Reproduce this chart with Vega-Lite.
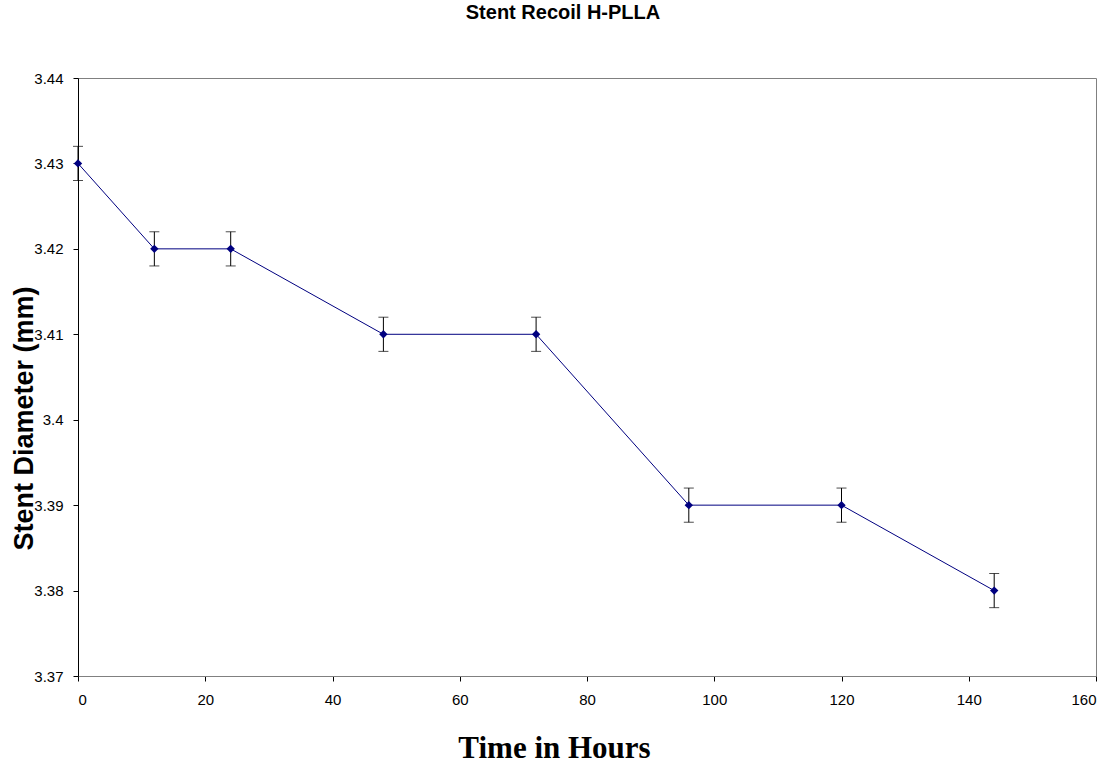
{
  "$schema": "https://vega.github.io/schema/vega-lite/v6.json",
  "width": 1018,
  "height": 598,
  "autosize": "none",
  "padding": {"left": 78, "top": 78, "right": 19, "bottom": 88},
  "background": "white",
  "config": {
    "view": {"stroke": "#808080", "strokeWidth": 1},
    "font": "Liberation Sans"
  },
  "title": {
    "text": "Stent Recoil H-PLLA",
    "font": "Liberation Sans",
    "fontSize": 20,
    "fontWeight": "bold",
    "color": "black",
    "anchor": "middle",
    "dx": -24,
    "offset": 48
  },
  "data": {
    "values": [
      {"hours": 0, "diameter": 3.43, "err": 0.002},
      {"hours": 12, "diameter": 3.42, "err": 0.002},
      {"hours": 24, "diameter": 3.42, "err": 0.002},
      {"hours": 48, "diameter": 3.41, "err": 0.002},
      {"hours": 72, "diameter": 3.41, "err": 0.002},
      {"hours": 96, "diameter": 3.39, "err": 0.002},
      {"hours": 120, "diameter": 3.39, "err": 0.002},
      {"hours": 144, "diameter": 3.38, "err": 0.002}
    ]
  },
  "encoding": {
    "x": {
      "field": "hours",
      "type": "quantitative",
      "scale": {"domain": [0, 160], "nice": false, "zero": false},
      "axis": {
        "title": "Time in Hours",
        "values": [0, 20, 40, 60, 80, 100, 120, 140, 160],
        "grid": false,
        "domainColor": "#808080",
        "tickColor": "black",
        "tickSize": 5,
        "labelFont": "Liberation Sans",
        "labelFontSize": 15,
        "labelColor": "black",
        "labelPadding": 11,
        "titleFont": "Liberation Serif",
        "titleFontSize": 31,
        "titleFontWeight": "bold",
        "titleColor": "black",
        "titleX": 476,
        "titleY": 81,
        "titleAlign": "center",
        "titleBaseline": "alphabetic"
      }
    },
    "y": {
      "field": "diameter",
      "type": "quantitative",
      "scale": {"domain": [3.37, 3.44], "nice": false, "zero": false},
      "axis": {
        "title": "Stent Diameter (mm)",
        "values": [3.37, 3.38, 3.39, 3.4, 3.41, 3.42, 3.43, 3.44],
        "format": "~g",
        "grid": false,
        "domainColor": "black",
        "tickColor": "black",
        "tickSize": 5,
        "labelFont": "Liberation Sans",
        "labelFontSize": 15,
        "labelColor": "black",
        "labelPadding": 10,
        "titleFont": "Liberation Sans",
        "titleFontSize": 27,
        "titleFontWeight": "bold",
        "titleColor": "black",
        "titleAngle": -90,
        "titleX": -46,
        "titleY": 340,
        "titleAlign": "center",
        "titleBaseline": "alphabetic"
      }
    }
  },
  "layer": [
    {
      "mark": {"type": "errorbar", "ticks": {"size": 10, "color": "black", "strokeWidth": 1}, "rule": {"color": "black", "strokeWidth": 1}},
      "encoding": {
        "y": {"field": "diameter", "type": "quantitative"},
        "yError": {"field": "err"}
      }
    },
    {
      "mark": {"type": "line", "color": "#000080", "strokeWidth": 1}
    },
    {
      "mark": {"type": "point", "shape": "diamond", "filled": true, "color": "#000080", "size": 70, "opacity": 1}
    }
  ]
}
